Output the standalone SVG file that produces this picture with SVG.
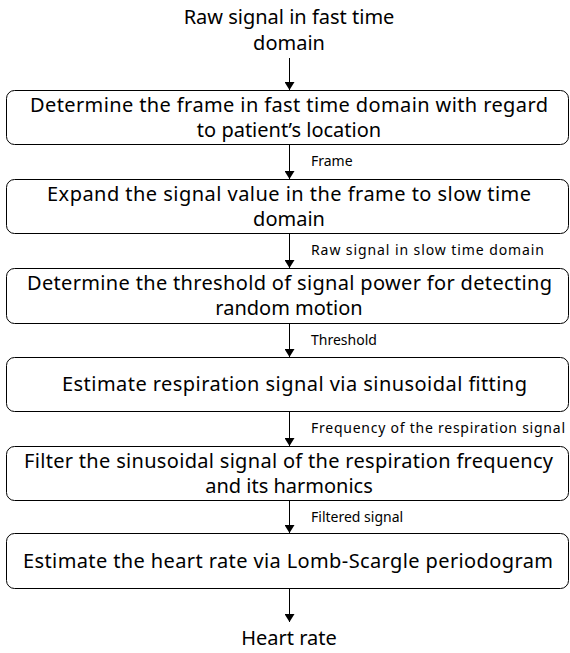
<svg xmlns="http://www.w3.org/2000/svg" width="570" height="653" viewBox="0 0 570 653">
<style>
.box{fill:#fff;stroke:#000;stroke-width:1}
.t{font-family:"Noto Sans","Open Sans",sans-serif;font-size:20px;fill:#000}
.c{text-anchor:middle}
.l{font-family:"Noto Sans","Open Sans",sans-serif;font-size:14px;fill:#000}
.ar{stroke:#000;stroke-width:1;fill:none;marker-end:url(#ah)}
</style>
<defs>
<marker id="ah" markerWidth="8" markerHeight="10" refX="8" refY="5" orient="auto" markerUnits="userSpaceOnUse">
<path d="M0,0 L8,5 L0,10 z" fill="#000"/>
</marker>
</defs>
<rect width="570" height="653" fill="#fff"/>
<g id="start"><text class="t c" x="289" y="24">Raw signal in fast time</text><text class="t c" x="289" y="50">domain</text></g>
<g id="n1"><rect class="box" x="6.5" y="90.5" width="562" height="54" rx="8"/>
<text class="t" x="30" y="112" textLength="518" lengthAdjust="spacing">Determine the frame in fast time domain with regard</text>
<text class="t c" x="289" y="137">to patient’s location</text></g>
<g id="n2"><rect class="box" x="6.5" y="179.5" width="562" height="54" rx="8"/>
<text class="t" x="47" y="201" textLength="484" lengthAdjust="spacing">Expand the signal value in the frame to slow time</text>
<text class="t c" x="289" y="226">domain</text></g>
<g id="n3"><rect class="box" x="6.5" y="268.5" width="562" height="55" rx="8"/>
<text class="t" x="27" y="290" textLength="525" lengthAdjust="spacing">Determine the threshold of signal power for detecting</text>
<text class="t c" x="289" y="315">random motion</text></g>
<g id="n4"><rect class="box" x="6.5" y="357.5" width="562" height="54" rx="8"/>
<text class="t" x="62" y="391" textLength="465" lengthAdjust="spacing">Estimate respiration signal via sinusoidal fitting</text></g>
<g id="n5"><rect class="box" x="6.5" y="446.5" width="562" height="54" rx="8"/>
<text class="t" x="24" y="468" textLength="529" lengthAdjust="spacing">Filter the sinusoidal signal of the respiration frequency</text>
<text class="t c" x="289" y="493">and its harmonics</text></g>
<g id="n6"><rect class="box" x="6.5" y="533.5" width="562" height="55" rx="8"/>
<text class="t" x="23" y="568" textLength="530" lengthAdjust="spacing">Estimate the heart rate via Lomb-Scargle periodogram</text></g>
<g id="end"><text class="t c" x="289" y="645">Heart rate</text></g>
<g id="connectors">
<line class="ar" x1="289.5" y1="58" x2="289.5" y2="90"/>
<line class="ar" x1="289.5" y1="145" x2="289.5" y2="179"/>
<line class="ar" x1="289.5" y1="234" x2="289.5" y2="268"/>
<line class="ar" x1="289.5" y1="324" x2="289.5" y2="357"/>
<line class="ar" x1="289.5" y1="412" x2="289.5" y2="446"/>
<line class="ar" x1="289.5" y1="501" x2="289.5" y2="533"/>
<line class="ar" x1="289.5" y1="589" x2="289.5" y2="622"/>
<text class="l" x="311" y="166">Frame</text>
<text class="l" x="311" y="255" textLength="233" lengthAdjust="spacing">Raw signal in slow time domain</text>
<text class="l" x="311" y="345">Threshold</text>
<text class="l" x="311" y="433" textLength="254" lengthAdjust="spacing">Frequency of the respiration signal</text>
<text class="l" x="311" y="522">Filtered signal</text>
</g>
</svg>
